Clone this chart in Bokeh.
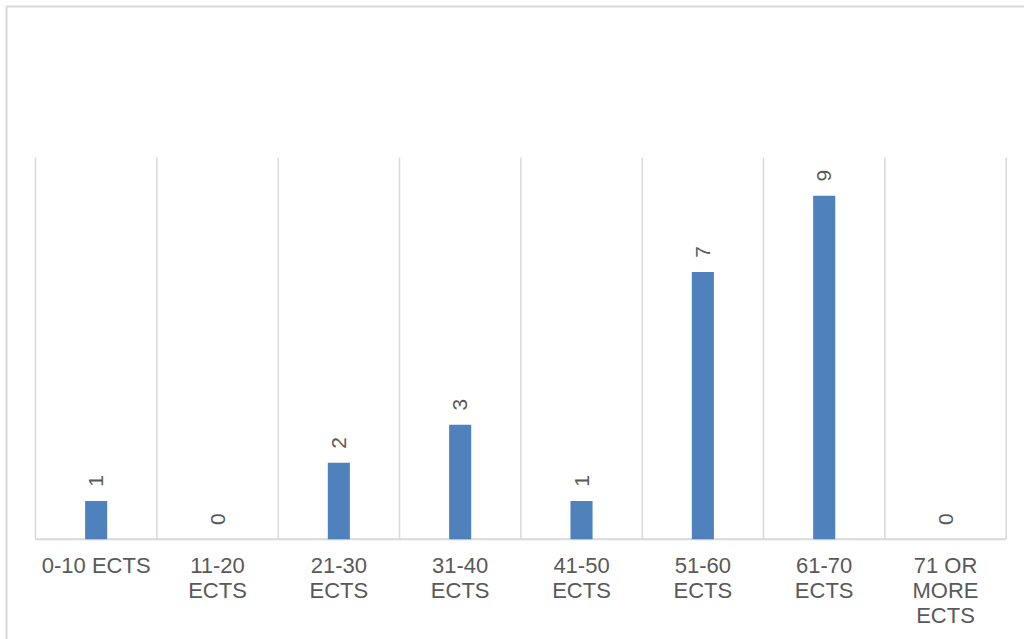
import math

from bokeh.core.properties import value
from bokeh.embed import file_html
from bokeh.models import Range1d
from bokeh.plotting import figure
from bokeh.resources import INLINE

# ---- data -------------------------------------------------------------
categories = [
    "0-10 ECTS",
    "11-20\nECTS",
    "21-30\nECTS",
    "31-40\nECTS",
    "41-50\nECTS",
    "51-60\nECTS",
    "61-70\nECTS",
    "71 OR\nMORE\nECTS",
]
counts = [1, 0, 2, 3, 1, 7, 9, 0]
y_max = 10

# ---- layout (pixels) ---------------------------------------------------
W, H = 1024, 639
LEFT_PX, RIGHT_PX = 35.0, 1005.7      # first / last category boundary
TOP_PX, BASE_PX = 157.0, 538.7        # top of gridlines / value axis zero
BORDER_PX = 6.0                       # outer chart border (left, top)

n = len(categories)
step = (RIGHT_PX - LEFT_PX) / n       # pixels per category
unit = (BASE_PX - TOP_PX) / y_max     # pixels per count

x_range = Range1d(-LEFT_PX / step, (W - LEFT_PX) / step)
y_range = Range1d(-(H - BASE_PX) / unit, BASE_PX / unit)

GRID = "#d9d9d9"
TEXT = "#595959"
BAR = "#4f81bd"
FONT = value("Liberation Sans")

p = figure(
    width=W,
    height=H,
    x_range=x_range,
    y_range=y_range,
    output_backend="svg",
    toolbar_location=None,
    x_axis_location=None,
    y_axis_location=None,
    min_border=0,
    outline_line_color=None,
    background_fill_color="white",
    border_fill_color="white",
)
p.grid.visible = False

# outer border (left and top edges)
bx = (BORDER_PX - LEFT_PX) / step
by = (BASE_PX - BORDER_PX) / unit
p.line(x=[bx, bx, x_range.end], y=[y_range.start, by, by], line_color=GRID, line_width=2)

# vertical separators between categories and the zero line
bounds = list(range(n + 1))
p.segment(x0=bounds, y0=[0] * (n + 1), x1=bounds, y1=[y_max] * (n + 1),
          line_color=GRID, line_width=1.5)
p.segment(x0=[0], y0=[0], x1=[n], y1=[0], line_color=GRID, line_width=2)

# bars
centers = [i + 0.5 for i in range(n)]
p.vbar(x=centers, top=counts, bottom=0, width=0.182, fill_color=BAR, line_color=None)

# rotated value labels above each bar
label_gap = 20.0 / unit
p.text(
    x=centers,
    y=[c + label_gap for c in counts],
    text=[str(c) for c in counts],
    angle=math.pi / 2,
    text_align="center",
    text_baseline="middle",
    text_font=FONT,
    text_font_size="21px",
    text_color=TEXT,
)

# category labels under the zero line
p.text(
    x=centers,
    y=[-14.0 / unit] * n,
    text=categories,
    text_align="center",
    text_baseline="top",
    text_line_height=1.0,
    text_font=FONT,
    text_font_size="22px",
    text_color=TEXT,
)

open("out.html", "w").write(file_html(p, INLINE))
